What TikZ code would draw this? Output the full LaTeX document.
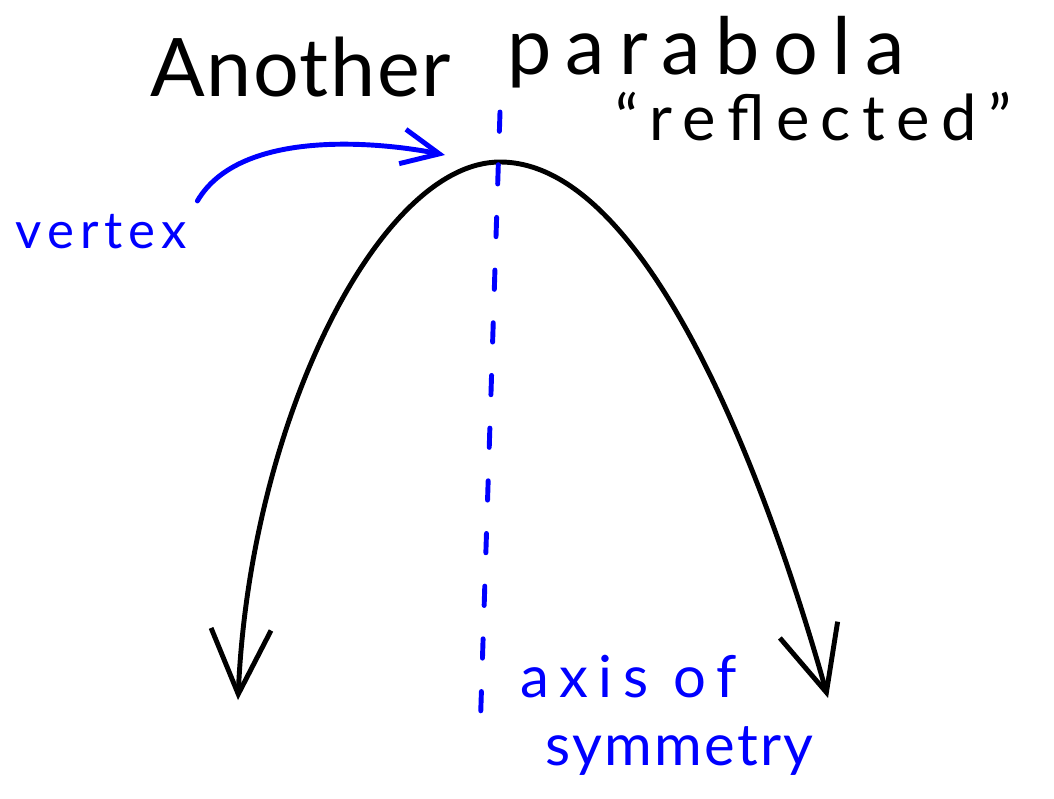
\documentclass[tikz,border=0pt]{standalone}
\usepackage{fontspec}
\setmainfont{Lato}[LetterSpace=12]
\usetikzlibrary{arrows.meta}
\definecolor{penblue}{RGB}{0,0,255}

\begin{document}
\begin{tikzpicture}[
    x=0.02cm, y=-0.02cm,
    ink/.style={line width=2.8pt, line cap=round, line join=round},
    title/.style={font=\fontsize{45}{54}\selectfont, inner sep=0pt, anchor=base west},
    note/.style={text=penblue, font=\fontsize{33}{40}\selectfont, inner sep=0pt, anchor=base west},
    bigbarb/.style={{Straight Barb[length=1.3cm, width=1.2cm]}-{Straight Barb[length=1.3cm, width=1.2cm]}},
    smallbarb/.style={-{Straight Barb[length=0.75cm, width=0.7cm]}}
]
\useasboundingbox (0,0) rectangle (1054,798);

% Heading
\node[title, font=\fontsize{46}{54}\selectfont\addfontfeatures{LetterSpace=2}] (head1) at (150,96) {Another};
\node[title, font=\fontsize{45}{54}\selectfont\addfontfeatures{LetterSpace=18}] (head2) at (507,74) {parabola};
\node[title, font=\fontsize{36}{43}\selectfont\addfontfeatures{LetterSpace=18}] (refl) at (615,140) {``reflected''};

% The parabola, opening downwards
\coordinate (lend) at (238,700);
\coordinate (vtx) at (500,162);
\coordinate (rend) at (828,698);
\draw[ink, bigbarb] (lend) .. controls (250,420) and (380,162) .. (vtx)
    .. controls (640,162) and (758,450) .. (rend);

% Axis of symmetry
\coordinate (axtop) at (500,112);
\coordinate (axbot) at (480,735);
\draw[ink, penblue, dash pattern=on 11pt off 19pt] (axtop) -- (axbot);

% Labels
\node[note, font=\fontsize{29}{35}\selectfont] (vlabel) at (15,248) {vertex};
\node[note, font=\fontsize{33}{40}\selectfont\addfontfeatures{LetterSpace=18}] (axis1) at (520,697) {axis of};
\node[note, font=\fontsize{33}{40}\selectfont\addfontfeatures{LetterSpace=4}] (axis2) at (545,765) {symmetry};

\coordinate (vtip) at (445,155);
\draw[ink, penblue, smallbarb] ([xshift=0.2cm, yshift=0.25cm]vlabel.north east) .. controls (240,128) and (380,142) .. (vtip);

\end{tikzpicture}
\end{document}
